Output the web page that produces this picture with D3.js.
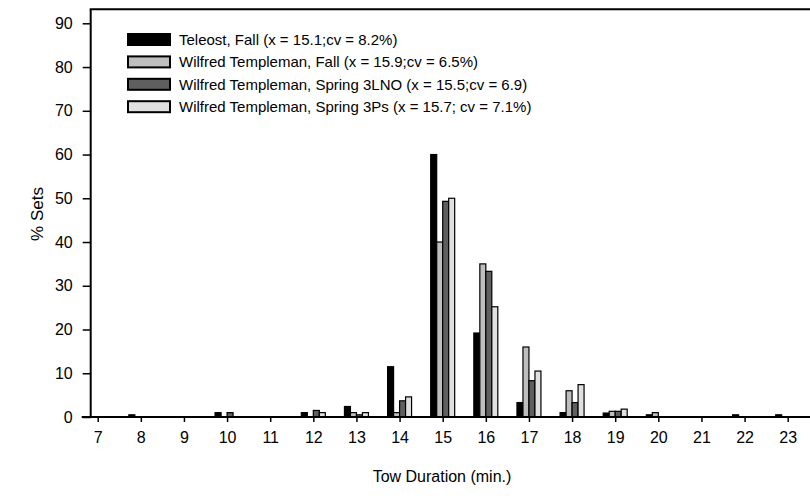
<!DOCTYPE html>
<html>
<head>
<meta charset="utf-8">
<script src="https://cdn.jsdelivr.net/npm/d3@7"></script>
<style>
  body { margin: 0; background: #fff; }
  text { font-family: "Liberation Sans", Arial, sans-serif; fill: #000; }
</style>
</head>
<body>
<svg id="chart" width="810" height="496"></svg>
<script>
// tow durations (min.) that have bars
const durations = [8, 10, 12, 13, 14, 15, 16, 17, 18, 19, 20, 22, 23];
const seriesNames = [
  "Teleost, Fall (x = 15.1;cv = 8.2%)",
  "Wilfred Templeman, Fall (x = 15.9;cv = 6.5%)",
  "Wilfred Templeman, Spring 3LNO (x = 15.5;cv = 6.9)",
  "Wilfred Templeman, Spring 3Ps (x = 15.7; cv = 7.1%)"
];
// % sets per duration, one array per survey
const teleostFall   = [0.5, 1.0, 1.0, 2.4, 11.5, 60.0, 19.2, 3.3, 1.0, 0.9, 0.5, 0.5, 0.5];
const wtFall        = [0,   0,   0,   1.0, 1.0,  40.0, 35.0, 16.0, 6.0, 1.3, 1.0, 0,   0];
const wtSpring3LNO  = [0,   1.0, 1.5, 0.5, 3.7,  49.3, 33.3, 8.3, 3.3, 1.3, 0,   0,   0];
const wtSpring3Ps   = [0,   0,   1.0, 1.0, 4.6,  50.0, 25.2, 10.5, 7.4, 1.8, 0,  0,   0];
const seriesValues = [teleostFall, wtFall, wtSpring3LNO, wtSpring3Ps];
const fills = ["#000000", "#bebebe", "#5f5f5f", "#e0e0e0"];

const xTicks = d3.range(7, 24);
const yTicks = d3.range(0, 91, 10);

const svg = d3.select("#chart");

const x = d3.scaleLinear().domain([7, 23]).range([97.7, 787.7]);
const y = d3.scaleLinear().domain([0, 90]).range([417, 23.3]);
const unit = x(1) - x(0);
const slot = d3.scaleBand().domain(d3.range(seriesNames.length))
  .range([-0.278 * unit, 0.278 * unit]);

// bars
const bars = [];
seriesValues.forEach((vals, s) => {
  vals.forEach((v, i) => { if (v > 0) bars.push({ s, d: durations[i], v }); });
});

svg.append("g")
  .selectAll("rect")
  .data(bars)
  .join("rect")
  .attr("x", d => x(d.d) + slot(d.s))
  .attr("y", d => y(d.v))
  .attr("width", slot.bandwidth())
  .attr("height", d => y(0) - y(d.v))
  .attr("fill", d => fills[d.s])
  .attr("stroke", "#000")
  .attr("stroke-width", 1.2);

// x axis
const xAxis = svg.append("g")
  .attr("transform", `translate(0,${y(0)})`)
  .call(d3.axisBottom(x).tickValues(xTicks).tickSize(5).tickPadding(10).tickFormat(d3.format("d")));
xAxis.select(".domain").remove();
xAxis.selectAll("line").attr("stroke-width", 1.5);
xAxis.selectAll("text").attr("font-size", 16).attr("font-family", null);
xAxis.append("line")
  .attr("x1", 81.7).attr("x2", 810)
  .attr("stroke", "#000").attr("stroke-width", 2);

// y axis
const yAxis = svg.append("g")
  .attr("transform", `translate(${x.range()[0] - 7},0)`)
  .call(d3.axisLeft(y).tickValues(yTicks).tickSize(8).tickPadding(10));
yAxis.select(".domain").remove();
yAxis.selectAll("line").attr("stroke-width", 1.5);
yAxis.selectAll("text").attr("font-size", 16).attr("font-family", null);
yAxis.append("line")
  .attr("y1", y(0)).attr("y2", 9.3)
  .attr("stroke", "#000").attr("stroke-width", 2);

// top frame line
svg.append("line")
  .attr("x1", x.range()[0] - 8).attr("x2", 810)
  .attr("y1", 9.3).attr("y2", 9.3)
  .attr("stroke", "#000").attr("stroke-width", 2);

// axis titles
svg.append("text")
  .attr("x", 442).attr("y", 482)
  .attr("text-anchor", "middle")
  .attr("font-size", 16)
  .text("Tow Duration (min.)");

svg.append("text")
  .attr("transform", "translate(43,214) rotate(-90)")
  .attr("text-anchor", "middle")
  .attr("font-size", 17)
  .text("% Sets");

// legend
const legend = svg.append("g").attr("transform", "translate(128,34)");
const rowH = 22.4;
seriesNames.forEach((name, i) => {
  legend.append("rect")
    .attr("x", 0).attr("y", i * rowH)
    .attr("width", 42).attr("height", 11)
    .attr("fill", fills[i])
    .attr("stroke", "#000").attr("stroke-width", 2);
  legend.append("text")
    .attr("x", 51).attr("y", i * rowH + 5.5)
    .attr("dy", "0.35em")
    .attr("font-size", 15)
    .text(name);
});
</script>
</body>
</html>
